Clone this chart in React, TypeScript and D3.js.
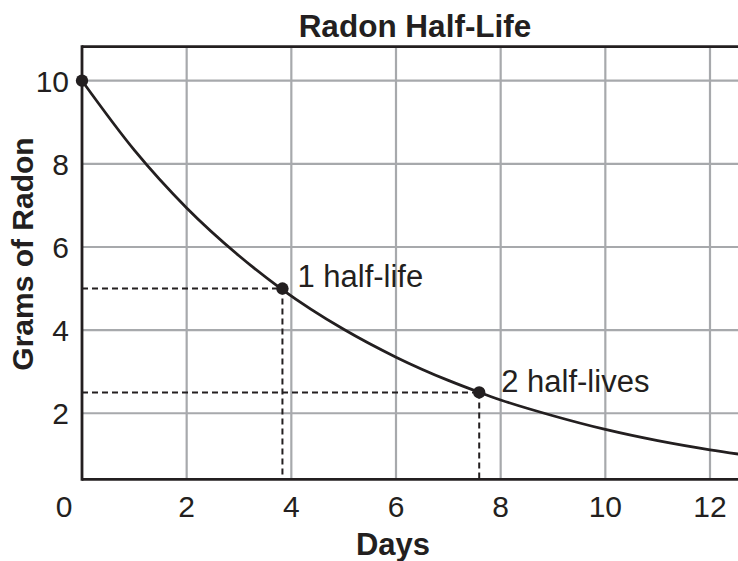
import React from "react";
import * as d3 from "d3";

const days = [0, 1, 2, 3, 3.8, 5, 6, 7, 7.6, 8, 9, 10, 11, 12, 12.7];
const grams = [10, 8.33, 6.94, 5.79, 5.0, 4.02, 3.35, 2.79, 2.5, 2.32, 1.94, 1.61, 1.34, 1.12, 0.99];
const xTicks = [0, 2, 4, 6, 8, 10, 12];
const yTicks = [2, 4, 6, 8, 10];
const markers = [
  { day: 0, g: 10, label: "" },
  { day: 3.83, g: 5, label: "1 half-life" },
  { day: 7.59, g: 2.5, label: "2 half-lives" },
];

const W = 738;
const H = 561;
const FONT = "'Liberation Sans', Arial, Helvetica, sans-serif";
const INK = "#231f20";
const GRID = "#a7a9ac";

export default function App() {
  const x = d3.scaleLinear().domain([0, 12]).range([82, 710]);
  const y = d3.scaleLinear().domain([0, 10]).range([496.4, 80.7]);
  const top = y(10.82);
  const bottom = y(0.41);
  const left = x(0);

  const line = d3
    .line<number>()
    .x((d) => x(days[d]))
    .y((d) => y(grams[d]))
    .curve(d3.curveMonotoneX);
  const path = line(days.map((_, i) => i)) || "";
  const labelDx = [15, 22];
  const labelDy = [-2, 0];

  return (
    <svg width={W} height={H} style={{ position: "absolute", left: 0, top: 0, background: "#fff" }}>
      <defs>
        <clipPath id="plot">
          <rect x={left} y={top} width={W - left} height={bottom - top} />
        </clipPath>
      </defs>
      {/* grid */}
      {xTicks.filter((t) => t > 0).map((t) => (
        <line key={"gx" + t} x1={x(t)} x2={x(t)} y1={top} y2={bottom} stroke={GRID} strokeWidth={2.2} />
      ))}
      {yTicks.map((t) => (
        <line key={"gy" + t} x1={left} x2={W} y1={y(t)} y2={y(t)} stroke={GRID} strokeWidth={2.2} />
      ))}
      {/* dashed guides */}
      {markers.slice(1).map((m, i) => (
        <g key={"dash" + i} stroke={INK} strokeWidth={2} strokeDasharray="6,4" fill="none">
          <line x1={left} x2={x(m.day)} y1={y(m.g)} y2={y(m.g)} />
          <line x1={x(m.day)} x2={x(m.day)} y1={y(m.g)} y2={bottom} />
        </g>
      ))}
      {/* frame */}
      <line x1={left} x2={W} y1={top} y2={top} stroke={INK} strokeWidth={2.8} />
      <line x1={left} x2={W} y1={bottom} y2={bottom} stroke={INK} strokeWidth={2.8} />
      <line x1={left} x2={left} y1={top - 1.4} y2={bottom + 1.4} stroke={INK} strokeWidth={2.8} />
      {/* curve */}
      <path d={path} fill="none" stroke={INK} strokeWidth={2.8} clipPath="url(#plot)" />
      {markers.map((m, i) => (
        <circle key={"pt" + i} cx={x(m.day)} cy={y(m.g)} r={6.2} fill={INK} />
      ))}
      {markers.filter((m) => m.label).map((m, i) => (
        <text key={"lb" + i} x={x(m.day) + labelDx[i]} y={y(m.g)} dy={labelDy[i]} fontFamily={FONT} fontSize={31} fill={INK}>
          {m.label}
        </text>
      ))}
      {/* x tick labels */}
      {xTicks.map((t) => (
        <text key={"xt" + t} x={t === 0 ? 64 : x(t)} y={517} textAnchor="middle" fontFamily={FONT} fontSize={30} fill={INK}>
          {t}
        </text>
      ))}
      {/* y tick labels */}
      {yTicks.map((t) => (
        <text key={"yt" + t} x={69} y={y(t) + 11} textAnchor="end" fontFamily={FONT} fontSize={30} fill={INK}>
          {t}
        </text>
      ))}
      {/* titles */}
      <text x={415} y={37} textAnchor="middle" fontFamily={FONT} fontSize={31.5} fontWeight="bold" fill={INK}>
        Radon Half-Life
      </text>
      <text x={393} y={555} textAnchor="middle" fontFamily={FONT} fontSize={31} fontWeight="bold" fill={INK}>
        Days
      </text>
      <text
        transform={`translate(33,254) rotate(-90)`}
        textAnchor="middle"
        fontFamily={FONT}
        fontSize={30}
        fontWeight="bold"
        fill={INK}
      >
        Grams of Radon
      </text>
    </svg>
  );
}
